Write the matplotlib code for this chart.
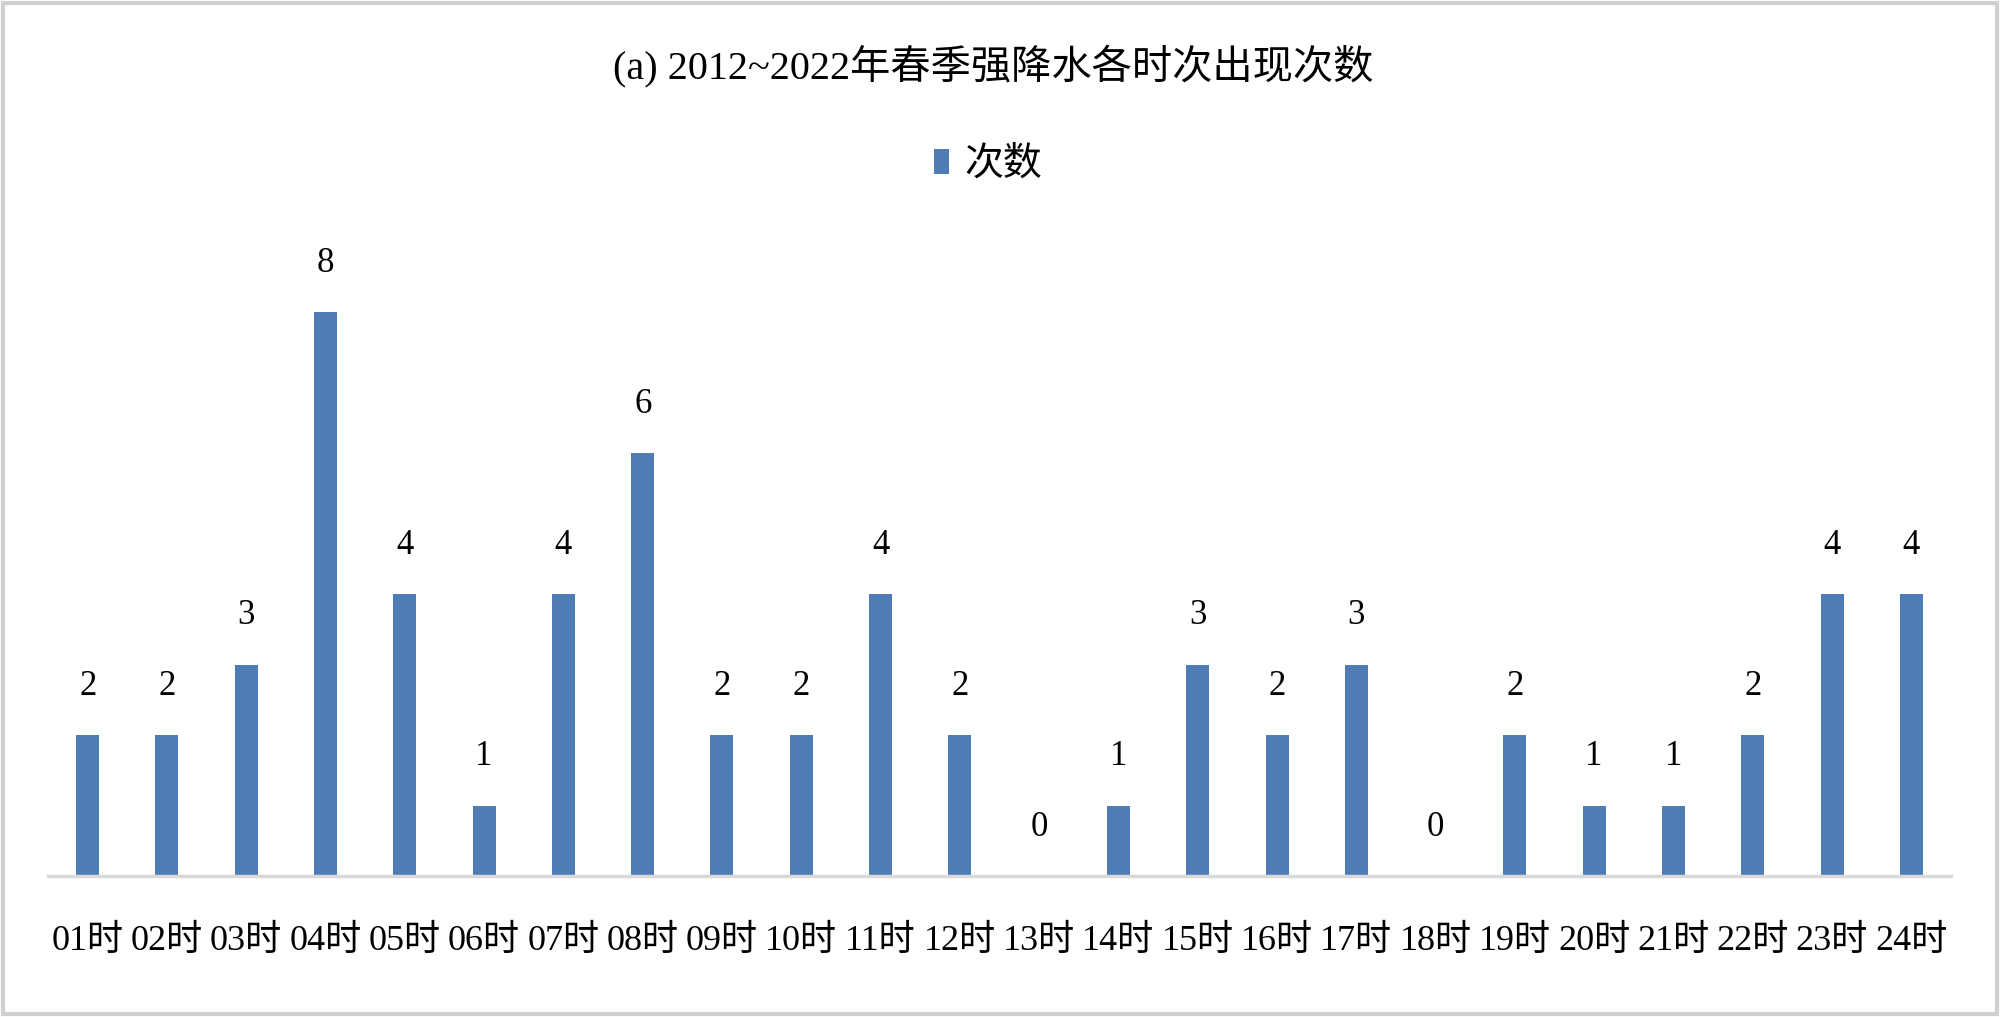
import matplotlib
matplotlib.use("Agg")
import matplotlib.pyplot as plt
from matplotlib.patches import Rectangle
import numpy as np

plt.rcParams['font.family'] = ['Liberation Serif', 'Noto Sans CJK SC']

# data
hours = ['01时', '02时', '03时', '04时', '05时', '06时', '07时', '08时',
         '09时', '10时', '11时', '12时', '13时', '14时', '15时', '16时',
         '17时', '18时', '19时', '20时', '21时', '22时', '23时', '24时']
counts = [2, 2, 3, 8, 4, 1, 4, 6, 2, 2, 4, 2, 0, 1, 3, 2, 3, 0, 2, 1, 1, 2, 4, 4]
title = '(a) 2012~2022年春季强降水各时次出现次数'
series_name = '次数'

bar_color = '#4F7CB5'
grid_gray = '#D9D9D9'

fig = plt.figure(figsize=(20, 10.17), dpi=100)
ax = fig.add_axes([0.024, 0.1386, 0.9515, 0.6239])

x = np.arange(len(hours))
bars = ax.bar(x, counts, width=0.29, color=bar_color, label=series_name, zorder=2)

# value labels above bars
for xi, v in zip(x, counts):
    ax.annotate(str(v), (xi, v), xytext=(0, 35), textcoords='offset points',
                ha='center', va='center', fontsize=25, color='black')

ax.set_xlim(-0.5, len(hours) - 0.5)
ax.set_ylim(0, 9)
ax.set_xticks(x)
ax.set_xticklabels(hours, fontsize=26)
ax.set_yticks([])
ax.tick_params(axis='x', length=0, pad=35)

for side in ['top', 'right', 'left']:
    ax.spines[side].set_visible(False)
ax.spines['bottom'].set_color(grid_gray)
ax.spines['bottom'].set_linewidth(2.5)

fig.text(0.4965, 0.935, title, ha='center', va='center', fontsize=29)

fig.legend(handles=[bars], labels=[series_name], loc='center',
           bbox_to_anchor=(0.494, 0.837), frameon=False, fontsize=28,
           handlelength=0.4, handleheight=0.6, handletextpad=0.4)

# outer frame
fig.patches.append(Rectangle((0.0015, 0.003), 0.997, 0.994, transform=fig.transFigure,
                             fill=False, edgecolor='#D0D0D0', linewidth=3))

plt.savefig('out.png', dpi=100)
